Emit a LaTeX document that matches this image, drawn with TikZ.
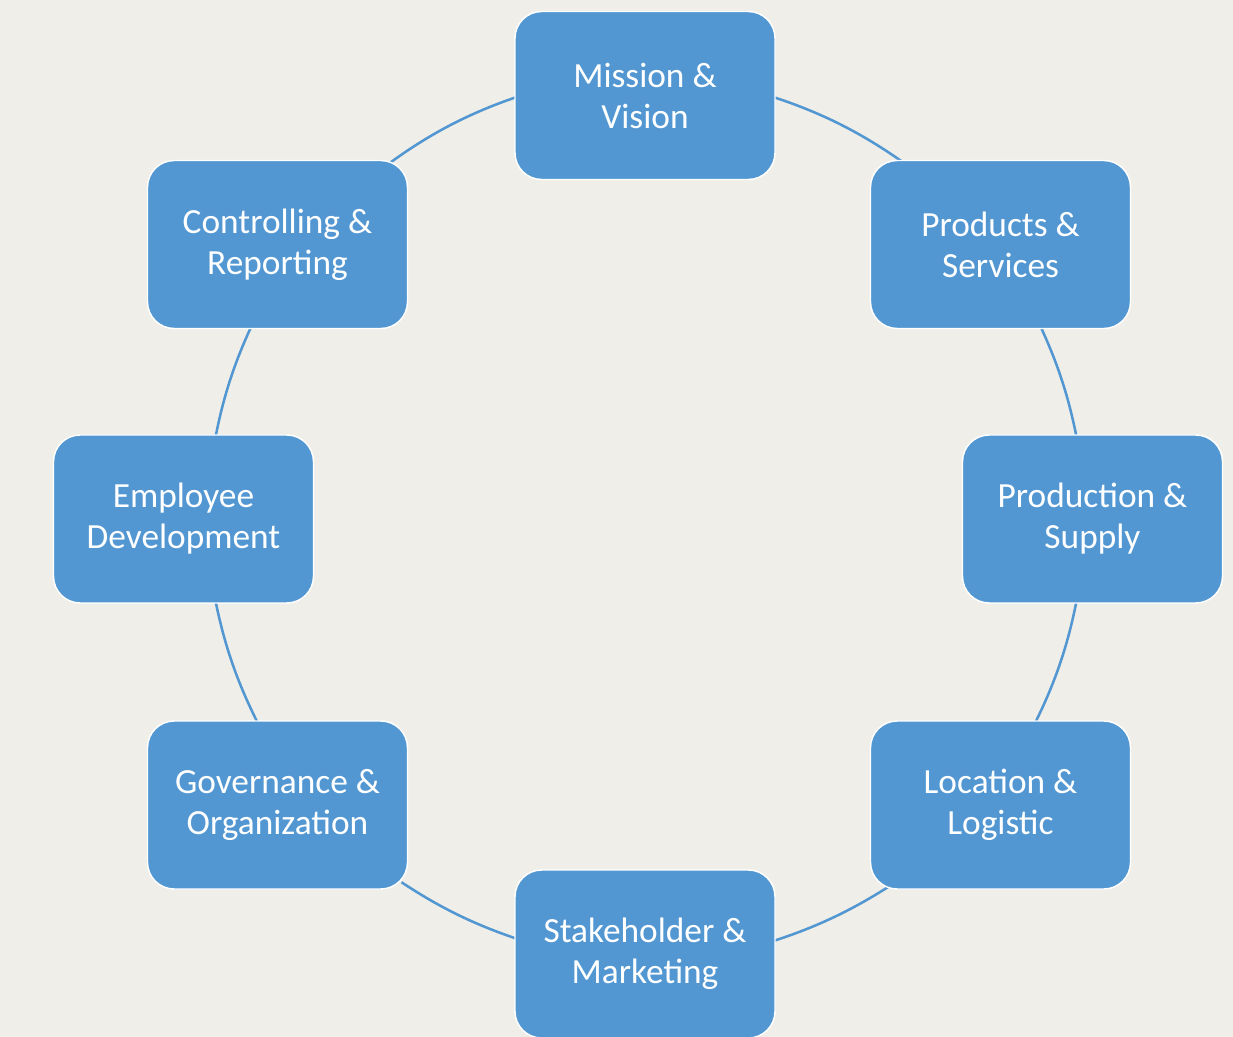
\documentclass[tikz,border=0pt]{standalone}
\usepackage{fontspec}
\setmainfont{Carlito}
\definecolor{boxblue}{RGB}{82,151,210}
\definecolor{paper}{RGB}{239,238,232}
\pgfdeclarelayer{paper}
\pgfdeclarelayer{ring}
\pgfsetlayers{paper,ring,main}
\tikzset{main node/.style={rectangle,rounded corners=20pt,draw=white,line width=1.1pt,fill=boxblue,text=white,minimum width=195pt,minimum height=126pt,inner sep=0pt,align=center,font=\fontsize{26.5}{30.75}\selectfont},
ring/.style={draw=boxblue,line width=1.9pt,looseness=0.86,shorten <=-6pt,shorten >=-6pt},
}

\begin{document}
\begin{tikzpicture}[x=0.75pt,y=-0.75pt]
	\begin{pgfonlayer}{paper}
	\fill[paper] (0,0) rectangle (1233,1037);
	\end{pgfonlayer}
	\useasboundingbox (0,0) rectangle (1233,1037);
	
	\node[main node] (mission) at (645,95.5) {Mission \&\\Vision};
	\node[main node] (products) at (1000.5,244.5) {Products \&\\Services};
	\node[main node] (production) at (1092.5,519) {Production \&\\Supply};
	\node[main node] (location) at (1000.5,805) {Location \&\\Logistic};
	\node[main node] (stakeholder) at (645,954) {Stakeholder \&\\Marketing};
	\node[main node] (governance) at (277.5,805) {Governance \&\\Organization};
	\node[main node] (employee) at (183.5,519) {Employee\\Development};
	\node[main node] (controlling) at (277.5,244.5) {Controlling \&\\Reporting};
	
	\begin{pgfonlayer}{ring}
	\path[ring]
	(mission.-1.87) edge[bend left=9] (products.140.5)
	(products.-64.4) edge[bend left=7.3] (production.101)
	(production.-101) edge[bend left=8.1] (location.67.6)
	(location.-144.7) edge[bend left=7.6] (stakeholder.6.9)
	(stakeholder.173.1) edge[bend left=7.7] (governance.-32.5)
	(governance.104.7) edge[bend left=8.1] (employee.-69.85)
	(employee.69.85) edge[bend left=7.3] (controlling.-108.3)
	(controlling.36.3) edge[bend left=9] (mission.181.9);
	\end{pgfonlayer}
\end{tikzpicture}
\end{document}
